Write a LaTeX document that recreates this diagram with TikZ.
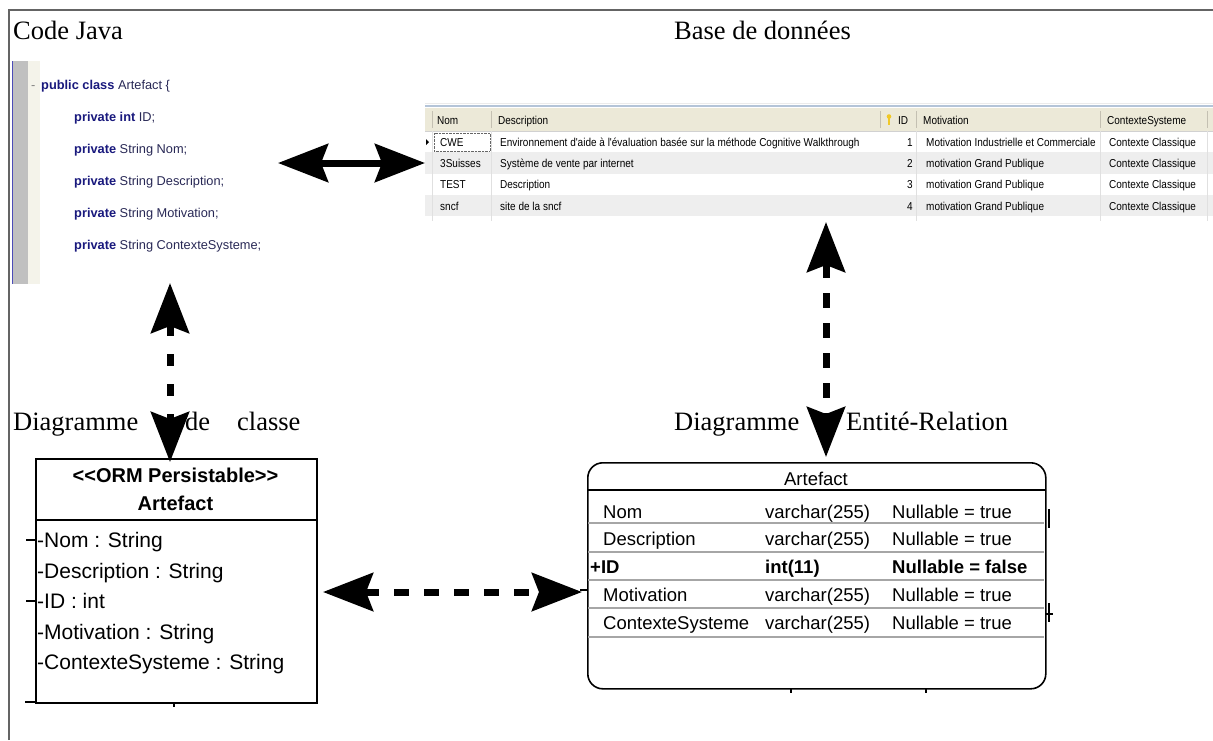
\documentclass[tikz,border=0pt]{standalone}
\usepackage{fontspec}
\setmainfont{Liberation Serif}
\setsansfont{Liberation Sans}
\newfontfamily\narrowsf[FakeStretch=0.87]{Liberation Sans}
\usetikzlibrary{arrows.meta}

\definecolor{kwblue}{RGB}{25,25,125}
\definecolor{idblue}{RGB}{40,40,85}
\definecolor{bargray}{RGB}{192,192,192}
\definecolor{gutter}{RGB}{244,243,234}
\definecolor{hdrbeige}{RGB}{236,233,216}
\definecolor{rowgray}{RGB}{238,238,238}
\definecolor{sepgray}{RGB}{196,192,178}
\definecolor{tabline}{RGB}{180,196,216}
\definecolor{framegray}{RGB}{100,100,100}
\definecolor{keyyellow}{RGB}{240,200,40}

\tikzset{
  title/.style={font=\fontsize{26.5}{30}\selectfont, anchor=base west, inner sep=0pt},
  code/.style={font=\sffamily\fontsize{12.8}{15}\selectfont, text=idblue, anchor=base west, inner sep=0pt},
  cell/.style={font=\narrowsf\fontsize{11.5}{13}\selectfont, anchor=base west, inner sep=0pt},
  umltxt/.style={font=\sffamily\fontsize{21}{24}\selectfont, anchor=base west, inner sep=0pt},
  ertxt/.style={font=\sffamily\fontsize{18.5}{22}\selectfont, anchor=base west, inner sep=0pt},
  bigtip/.style={Stealth[length=50pt,width=38pt,inset=7pt]},
  linkarrow/.style={line width=7pt, {Stealth[length=50pt,width=38pt,inset=7pt]}-{Stealth[length=50pt,width=38pt,inset=7pt]}},
}
\newcommand{\kw}[1]{\textbf{\textcolor{kwblue}{#1}}}

\begin{document}
\begin{tikzpicture}[x=1pt, y=-1pt]
  \useasboundingbox (0,0) rectangle (1213,740);
  \draw[framegray, line width=1.2pt] (9,740) -- (9,10) -- (1213,10);

  % titres
  \node[title] (tjava) at (13,39) {Code Java};
  \node[title] (tbase) at (674,39) {Base de données};
  \node[title] (tcls1) at (13,430) {Diagramme};
  \node[title] (tcls2) at (185,430) {de};
  \node[title] (tcls3) at (237,430) {classe};
  \node[title] (ter1) at (674,430) {Diagramme};
  \node[title] (ter2) at (846,430) {Entité-Relation};

  % code java
  \fill[bargray] (13,61) rectangle (28,284);
  \fill[gutter] (28,61) rectangle (40,284);
  \draw[blue!60!black!70, line width=1.5pt] (12.5,61) -- (12.5,284);
  \node[code, text=gray] (jfold) at (31,89.5) {-};
  \node[code] (j0) at (41,89.5) {\kw{public class} Artefact \{};
  \node[code] (j1) at (74,121.5) {\kw{private int} ID;};
  \node[code] (j2) at (74,153.5) {\kw{private} String Nom;};
  \node[code] (j3) at (74,185.5) {\kw{private} String Description;};
  \node[code] (j4) at (74,217.5) {\kw{private} String Motivation;};
  \node[code] (j5) at (74,249.5) {\kw{private} String ContexteSysteme;};

  % table de la base
  \draw[black!8] (425,103) -- (1213,103);
  \draw[tabline, line width=1.5pt] (425,106) -- (1213,106);
  \fill[hdrbeige] (425,108) rectangle (1213,131);
  \draw[black!18] (425,131) -- (1213,131);
  \fill[rowgray] (425,152) rectangle (1213,174);
  \fill[rowgray] (425,195) rectangle (1213,216);
  \foreach \x in {432,491,880,916,1100,1207}
    \draw[sepgray] (\x,111) -- (\x,128);
  \foreach \x in {432,491,916,1100,1207}
    \draw[black!12] (\x,131) -- (\x,221);
  \fill (426,139) -- (429,142) -- (426,145) -- cycle;
  \draw[densely dotted, black!60] (434,133) rectangle (490,151);
  \fill[keyyellow] (889,116.5) circle (2.3pt);
  \draw[keyyellow, line width=1.3pt] (889,118) -- (889,125);

  \node[cell] (hnom) at (437,124) {Nom};
  \node[cell] (hdesc) at (498,124) {Description};
  \node[cell] (hid) at (898,124) {ID};
  \node[cell] (hmot) at (923,124) {Motivation};
  \node[cell] (hctx) at (1107,124) {ContexteSysteme};

  \node[cell] (n1) at (440,146) {CWE};
  \node[cell] (d1) at (500,146) {Environnement d'aide à l'évaluation basée sur la méthode Cognitive Walkthrough};
  \node[cell, anchor=base east] (i1) at (913,146) {1};
  \node[cell] (m1) at (926,146) {Motivation Industrielle et Commerciale};
  \node[cell] (c1) at (1109,146) {Contexte Classique};

  \node[cell] (n2) at (440,167) {3Suisses};
  \node[cell] (d2) at (500,167) {Système de vente par internet};
  \node[cell, anchor=base east] (i2) at (913,167) {2};
  \node[cell] (m2) at (926,167) {motivation Grand Publique};
  \node[cell] (c2) at (1109,167) {Contexte Classique};

  \node[cell] (n3) at (440,188) {TEST};
  \node[cell] (d3) at (500,188) {Description};
  \node[cell, anchor=base east] (i3) at (913,188) {3};
  \node[cell] (m3) at (926,188) {motivation Grand Publique};
  \node[cell] (c3) at (1109,188) {Contexte Classique};

  \node[cell] (n4) at (440,210) {sncf};
  \node[cell] (d4) at (500,210) {site de la sncf};
  \node[cell, anchor=base east] (i4) at (913,210) {4};
  \node[cell] (m4) at (926,210) {motivation Grand Publique};
  \node[cell] (c4) at (1109,210) {Contexte Classique};

  % diagramme de classe
  \node[draw, line width=1.8pt, inner sep=0pt, minimum width=281pt, minimum height=244pt,
        anchor=north west] (cls) at (35,458) {};
  \draw[line width=1.6pt] (35,520) -- (316,520);
  \node[umltxt, font=\sffamily\bfseries\fontsize{20}{24}\selectfont, anchor=base] (stereo) at (175.5,482) {<{}<ORM Persistable>{}>};
  \node[umltxt, font=\sffamily\bfseries\fontsize{20}{24}\selectfont, anchor=base] (clsname) at (175.5,510) {Artefact};
  \node[umltxt] (a1) at (37,547.5) {-Nom : String};
  \node[umltxt] (a2) at (37,578.5) {-Description : String};
  \node[umltxt] (a3) at (37,608.5) {-ID : int};
  \node[umltxt] (a4) at (37,639.5) {-Motivation : String};
  \node[umltxt] (a5) at (37,669.5) {-ContexteSysteme : String};
  \draw[line width=1.2pt] (26,540) -- (35,540);
  \draw[line width=1.2pt] (26,601) -- (35,601);
  \draw[line width=1.2pt] (25,702) -- (35,702);
  \draw[line width=1.2pt] (174,702) -- (174,707);

  % diagramme entite-relation
  \node[draw, line width=1.6pt, rounded corners=15pt, inner sep=0pt, minimum width=458pt,
        minimum height=226pt, anchor=north west] (er) at (587,462) {};
  \draw[line width=1.6pt] (587,490) -- (1045,490);
  \foreach \y in {523,552,580,608,637}
    \draw[black!35, line width=1.4pt] (588,\y) -- (1044,\y);
  \node[ertxt, anchor=base] (ername) at (816,485) {Artefact};
  \node[ertxt] (e1) at (603,518.5) {Nom};
  \node[ertxt] (t1) at (765,518.5) {varchar(255)};
  \node[ertxt] (u1) at (892,518.5) {Nullable = true};
  \node[ertxt] (e2) at (603,545.5) {Description};
  \node[ertxt] (t2) at (765,545.5) {varchar(255)};
  \node[ertxt] (u2) at (892,545.5) {Nullable = true};
  \node[ertxt, font=\sffamily\bfseries\fontsize{18.5}{22}\selectfont] (e3) at (590,573) {+ID};
  \node[ertxt, font=\sffamily\bfseries\fontsize{18.5}{22}\selectfont] (t3) at (765,573) {int(11)};
  \node[ertxt, font=\sffamily\bfseries\fontsize{18.5}{22}\selectfont] (u3) at (892,573) {Nullable = false};
  \node[ertxt] (e4) at (603,601.5) {Motivation};
  \node[ertxt] (t4) at (765,601.5) {varchar(255)};
  \node[ertxt] (u4) at (892,601.5) {Nullable = true};
  \node[ertxt] (e5) at (603,629) {ContexteSysteme};
  \node[ertxt] (t5) at (765,629) {varchar(255)};
  \node[ertxt] (u5) at (892,629) {Nullable = true};
  \draw[line width=1.2pt] (1049,509) -- (1049,528);
  \draw[line width=1.2pt] (1049,603) -- (1049,622);
  \draw[line width=1.2pt] (1045,614) -- (1053,614);
  \draw[line width=1.2pt] (580,590) -- (587,590);
  \draw[line width=1.2pt] (791,688) -- (791,693);
  \draw[line width=1.2pt] (926,688) -- (926,693);

  % fleches
  \coordinate (jright) at (278,163);
  \coordinate (dbleft) at (425,163);
  \coordinate (jbottom) at (170,283);
  \coordinate (clstop) at (170,462);
  \coordinate (dbbottom) at (826,222);
  \coordinate (ertop) at (826,457);
  \coordinate (clsright) at (323,592);
  \coordinate (erleft) at (582,592);
  \draw[linkarrow] (jright) -- (dbleft);
  \draw[linkarrow, dash pattern=on 12pt off 18pt] (jbottom) -- (clstop);
  \draw[linkarrow, dash pattern=on 15pt off 15pt] (dbbottom) -- (ertop);
  \draw[linkarrow, dash pattern=on 15pt off 15pt] (clsright) -- (erleft);
\end{tikzpicture}
\end{document}
